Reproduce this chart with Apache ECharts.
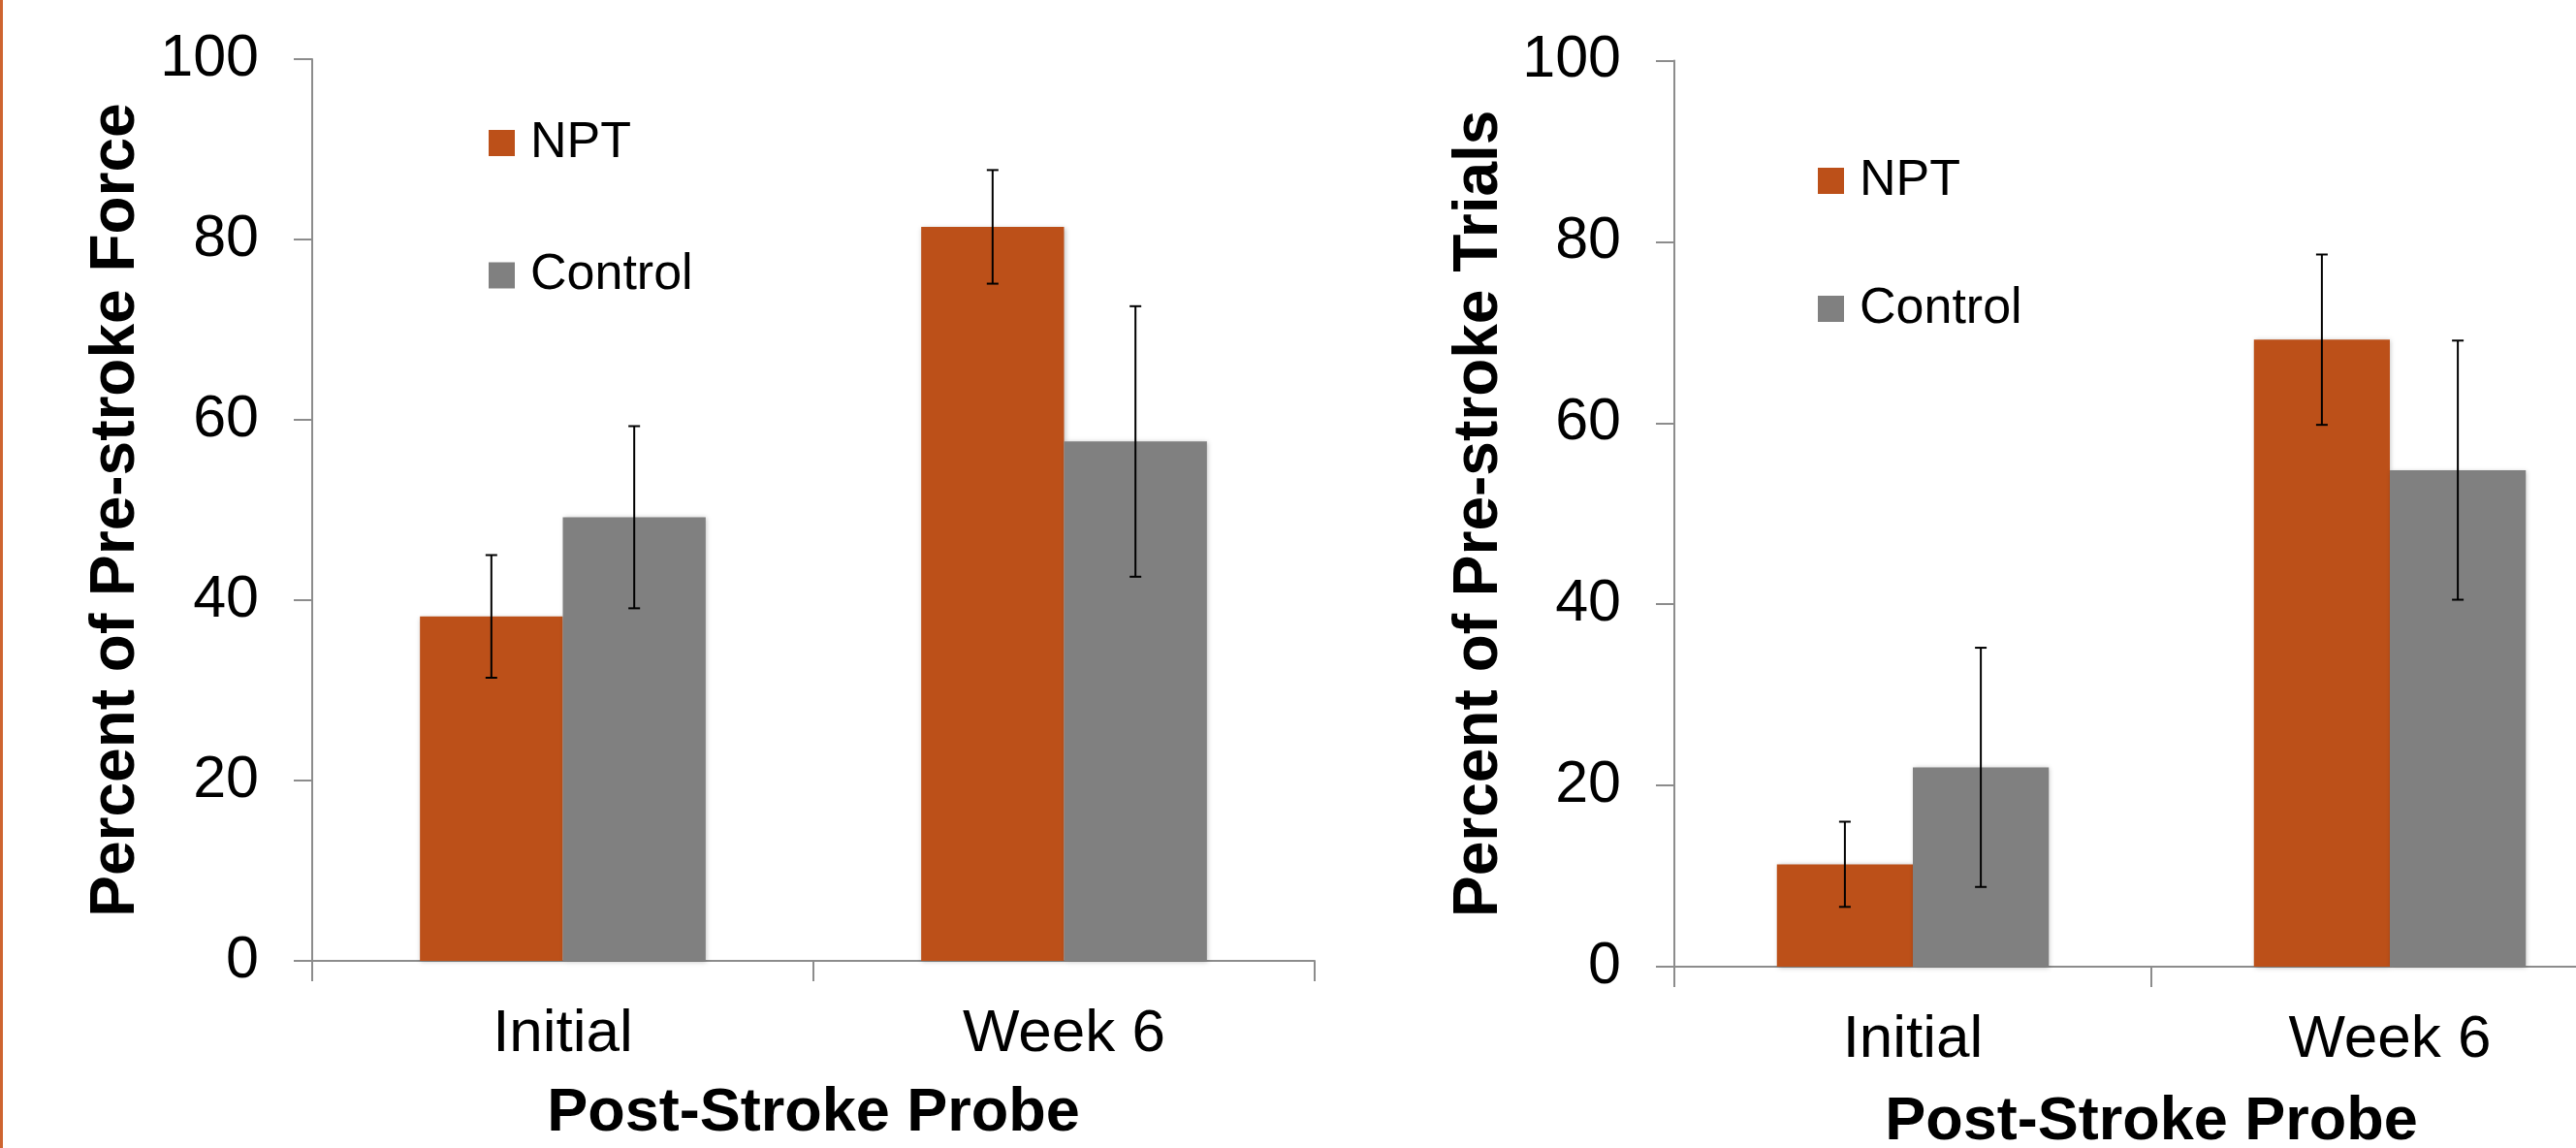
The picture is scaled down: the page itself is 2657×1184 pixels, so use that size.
<!DOCTYPE html>
<html>
<head>
<meta charset="utf-8">
<title>NPT vs Control</title>
<script src="https://cdn.jsdelivr.net/npm/echarts@6/dist/echarts.min.js"></script>
<style>
  html, body { margin: 0; padding: 0; background: #ffffff; }
  #chart { width: 2657px; height: 1184px; }
</style>
</head>
<body>
<div id="chart"></div>
<script>
// Probe categories shared by both panels
const categories = ['Initial', 'Week 6'];
const yTicks = [0, 20, 40, 60, 80, 100];

// Panel 1: percent of pre-stroke force (mean and error)
const forceNPT = [38.2, 81.4];
const forceNPTErr = [6.8, 6.3];
const forceControl = [49.2, 57.6];
const forceControlErr = [10.1, 15.0];

// Panel 2: percent of pre-stroke trials (mean and error)
const trialsNPT = [11.3, 69.2];
const trialsNPTErr = [4.7, 9.4];
const trialsControl = [22.0, 54.8];
const trialsControlErr = [13.2, 14.3];

const seriesNames = ['NPT', 'Control'];
const COLOR_NPT = '#BC5019';
const COLOR_CONTROL = '#808080';
const AXIS_COLOR = '#8C8C8C';
const FONT = '"Liberation Sans", Arial, Helvetica, sans-serif';
const CATEGORY_GAP = 0.43;

function errorRows(means, errs, which) {
  return means.map((m, i) => [i, m, errs[i], which]);
}

function renderErrorBar(params, api) {
  const band = api.size([1, 0])[0];
  const barW = band * (1 - CATEGORY_GAP) / 2;
  const idx = api.value(0);
  const mean = api.value(1);
  const err = api.value(2);
  const which = api.value(3);
  const cx = api.coord([idx, 0])[0] + (which === 0 ? -barW / 2 : barW / 2);
  const yHi = api.coord([idx, mean + err])[1];
  const yLo = api.coord([idx, mean - err])[1];
  const cap = 6;
  const style = { stroke: '#000000', lineWidth: 2 };
  return {
    type: 'group',
    children: [
      { type: 'line', shape: { x1: cx, y1: yHi, x2: cx, y2: yLo }, style },
      { type: 'line', shape: { x1: cx - cap, y1: yHi, x2: cx + cap, y2: yHi }, style },
      { type: 'line', shape: { x1: cx - cap, y1: yLo, x2: cx + cap, y2: yLo }, style }
    ]
  };
}

function xAxisFor(gridIndex, nameGap) {
  return {
    type: 'category',
    gridIndex,
    data: categories,
    name: 'Post-Stroke Probe',
    nameLocation: 'middle',
    nameGap,
    nameTextStyle: { fontFamily: FONT, fontSize: 63, fontWeight: 'bold', color: '#000', lineHeight: 63 },
    axisLine: { show: true, lineStyle: { color: AXIS_COLOR, width: 2 } },
    axisTick: { show: true, length: 21, lineStyle: { color: AXIS_COLOR, width: 2 } },
    axisLabel: { fontFamily: FONT, fontSize: 62, color: '#000', margin: 45, lineHeight: 62 },
    splitLine: { show: false }
  };
}

function yAxisFor(gridIndex, title, nameGap) {
  return {
    type: 'value',
    gridIndex,
    min: yTicks[0],
    max: yTicks[yTicks.length - 1],
    interval: yTicks[1] - yTicks[0],
    name: title,
    nameLocation: 'middle',
    nameRotate: 90,
    nameGap,
    nameTextStyle: { fontFamily: FONT, fontSize: 64, fontWeight: 'bold', color: '#000', lineHeight: 64 },
    axisLine: { show: true, lineStyle: { color: AXIS_COLOR, width: 2 } },
    axisTick: { show: true, length: 19, lineStyle: { color: AXIS_COLOR, width: 2 } },
    axisLabel: { fontFamily: FONT, fontSize: 61, color: '#000', margin: 55 },
    splitLine: { show: false }
  };
}

const barShadow = { shadowBlur: 5, shadowColor: 'rgba(0,0,0,0.25)', shadowOffsetX: 1, shadowOffsetY: 1 };

function barSeries(name, data, color, axisIndex) {
  return {
    type: 'bar',
    name,
    xAxisIndex: axisIndex,
    yAxisIndex: axisIndex,
    data,
    barGap: '0%',
    barCategoryGap: (CATEGORY_GAP * 100) + '%',
    itemStyle: Object.assign({ color }, barShadow),
    emphasis: { disabled: true },
    z: 2
  };
}

function errorSeries(rows, axisIndex) {
  return {
    type: 'custom',
    xAxisIndex: axisIndex,
    yAxisIndex: axisIndex,
    data: rows,
    renderItem: renderErrorBar,
    silent: true,
    z: 5
  };
}

function legendAt(left, top, gap) {
  return {
    data: seriesNames,
    orient: 'vertical',
    left,
    top,
    padding: 0,
    itemWidth: 27,
    itemHeight: 27,
    itemGap: gap,
    icon: 'rect',
    selectedMode: false,
    textStyle: { fontFamily: FONT, fontSize: 52, color: '#000', lineHeight: 52, padding: [0, 0, 0, 11] }
  };
}

const chart = echarts.init(document.getElementById('chart'), null, { renderer: 'canvas' });

chart.setOption({
  backgroundColor: '#ffffff',
  animation: false,
  color: [COLOR_NPT, COLOR_CONTROL],
  grid: [
    { left: 322, top: 61, width: 1034, bottom: 193, containLabel: false, outerBoundsMode: 'none' },
    // the second panel runs past the right edge of the page
    { left: 1727, top: 62.5, width: 984, bottom: 187, containLabel: false, outerBoundsMode: 'none' }
  ],
  legend: [
    legendAt(504, 121.5, 84.5),
    legendAt(1875, 160.5, 80)
  ],
  xAxis: [xAxisFor(0, 126), xAxisFor(1, 129)],
  yAxis: [
    yAxisFor(0, 'Percent of Pre-stroke Force', 170),
    yAxisFor(1, 'Percent of Pre-stroke Trials', 169)
  ],
  series: [
    barSeries('NPT', forceNPT, COLOR_NPT, 0),
    barSeries('Control', forceControl, COLOR_CONTROL, 0),
    errorSeries(errorRows(forceNPT, forceNPTErr, 0).concat(errorRows(forceControl, forceControlErr, 1)), 0),
    barSeries('NPT', trialsNPT, COLOR_NPT, 1),
    barSeries('Control', trialsControl, COLOR_CONTROL, 1),
    errorSeries(errorRows(trialsNPT, trialsNPTErr, 0).concat(errorRows(trialsControl, trialsControlErr, 1)), 1)
  ],
  graphic: [
    // slide accent stripe on the left edge
    { type: 'rect', left: 0, top: 0, shape: { x: 0, y: 0, width: 3, height: 1184 }, style: { fill: '#CE6430' }, silent: true }
  ]
});
</script>
</body>
</html>
